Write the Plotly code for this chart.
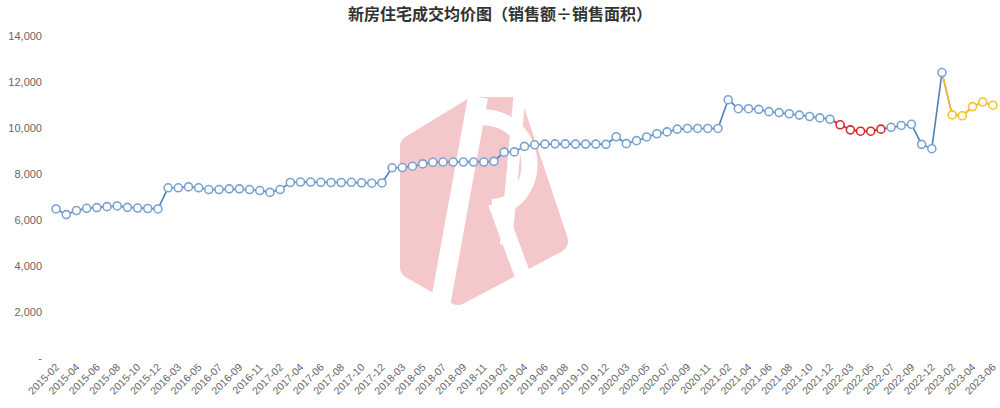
import base64
import plotly.graph_objects as go

# ---- data ----
months = [
    "2015-02", "2015-03", "2015-04", "2015-05", "2015-06", "2015-07", "2015-08", "2015-09", "2015-10", "2015-11", "2015-12",
    "2016-02", "2016-03", "2016-04", "2016-05", "2016-06", "2016-07", "2016-08", "2016-09", "2016-10", "2016-11", "2016-12",
    "2017-02", "2017-03", "2017-04", "2017-05", "2017-06", "2017-07", "2017-08", "2017-09", "2017-10", "2017-11", "2017-12",
    "2018-02", "2018-03", "2018-04", "2018-05", "2018-06", "2018-07", "2018-08", "2018-09", "2018-10", "2018-11", "2018-12",
    "2019-02", "2019-03", "2019-04", "2019-05", "2019-06", "2019-07", "2019-08", "2019-09", "2019-10", "2019-11", "2019-12",
    "2020-02", "2020-03", "2020-04", "2020-05", "2020-06", "2020-07", "2020-08", "2020-09", "2020-10", "2020-11", "2020-12",
    "2021-02", "2021-03", "2021-04", "2021-05", "2021-06", "2021-07", "2021-08", "2021-09", "2021-10", "2021-11", "2021-12",
    "2022-02", "2022-03", "2022-04", "2022-05", "2022-06", "2022-07", "2022-08", "2022-09", "2022-10", "2022-12",
    "2023-01", "2023-02", "2023-03", "2023-04", "2023-05", "2023-06",
]
avg_price = [
    6480, 6235, 6410, 6510, 6540, 6580, 6610, 6550, 6520, 6500, 6480,
    7400, 7400, 7440, 7400, 7325, 7325, 7355, 7355, 7325, 7280, 7200,
    7325, 7630, 7650, 7650, 7640, 7630, 7630, 7640, 7620, 7600, 7610,
    8270, 8280, 8340, 8440, 8510, 8520, 8520, 8520, 8520, 8520, 8550,
    8950, 8960, 9200, 9270, 9300, 9310, 9310, 9300, 9300, 9300, 9290,
    9620, 9320, 9450, 9610, 9750, 9830, 9950, 9980, 9980, 9980, 9980,
    11230, 10840, 10840, 10810, 10710, 10670, 10620, 10560, 10500, 10440, 10380,
    10140, 9920, 9860, 9860, 9950, 10030, 10110, 10160, 9290, 9100,
    12410, 10570, 10530, 10930, 11130, 10990,
]
red_start, red_end = "2022-02", "2022-06"      # highlighted period (red)
yellow_start = "2023-02"                        # highlighted period (yellow)
y_ticks = [0, 2000, 4000, 6000, 8000, 10000, 12000, 14000]
y_tick_text = ["-", "2,000", "4,000", "6,000", "8,000", "10,000", "12,000", "14,000"]
title_text = "新房住宅成交均价图（销售额÷销售面积）"

BLUE_LINE = "#4f7fb8"
BLUE_MARK = "#7aa3d3"
RED = "#d42a2a"
YELLOW = "#f8c22c"

i_r0 = months.index(red_start)
i_r1 = months.index(red_end)
i_y0 = months.index(yellow_start)

mark_colors = []
for i in range(len(months)):
    if i_r0 <= i <= i_r1:
        mark_colors.append(RED)
    elif i >= i_y0:
        mark_colors.append(YELLOW)
    else:
        mark_colors.append(BLUE_MARK)

fig = go.Figure()
fig.add_trace(go.Scatter(x=months, y=avg_price, mode="lines",
                         line=dict(color=BLUE_LINE, width=1.6), hoverinfo="skip"))
fig.add_trace(go.Scatter(x=months[i_r0 - 1:i_r1 + 1], y=avg_price[i_r0 - 1:i_r1 + 1], mode="lines",
                         line=dict(color=RED, width=1.6), hoverinfo="skip"))
fig.add_trace(go.Scatter(x=months[i_y0 - 1:], y=avg_price[i_y0 - 1:], mode="lines",
                         line=dict(color=YELLOW, width=1.6), hoverinfo="skip"))
fig.add_trace(go.Scatter(x=months, y=avg_price, mode="markers",
                         marker=dict(symbol="circle", size=8, color="white",
                                     line=dict(color=mark_colors, width=1.6))))

# ---- watermark logo (decoration) ----
svg = """<svg xmlns='http://www.w3.org/2000/svg' width='170' height='212' viewBox='0 0 170 212'>
<polygon points='14,52 76,14 114,14 158,146 60,198 14,172' fill='#f4c8ca' stroke='#f4c8ca' stroke-width='24' stroke-linejoin='round'/>
<line x1='40' y1='222' x2='80' y2='2' stroke='white' stroke-width='20'/>
<path d='M 80,22 C 146,20 146,110 94,112' fill='none' stroke='white' stroke-width='16'/>
<line x1='98' y1='108' x2='140' y2='222' stroke='white' stroke-width='16'/>
<line x1='122' y1='-5' x2='108' y2='150' stroke='white' stroke-width='12'/>
</svg>"""
src = "data:image/svg+xml;base64," + base64.b64encode(svg.encode()).decode()

L, R, T, B = 51, 2, 36, 50
W, H = 1000, 408
pw, ph = W - L - R, H - T - B
fig.add_layout_image(dict(source=src, xref="paper", yref="paper",
                          x=(398 - L) / pw, y=(358 - 95) / ph,
                          sizex=170 / pw, sizey=212 / ph,
                          xanchor="left", yanchor="top", sizing="stretch",
                          layer="below", opacity=1))

fig.update_layout(
    width=W, height=H,
    margin=dict(l=L, r=R, t=T, b=B, autoexpand=False),
    paper_bgcolor="white", plot_bgcolor="rgba(0,0,0,0)",
    showlegend=False,
    title=dict(text="<b>" + title_text + "</b>", x=0.5, xref="container", xanchor="center",
               y=1 - 14 / H, yref="container", yanchor="middle",
               font=dict(family="Noto Sans CJK SC", size=16, color="#333333")),
    font=dict(family="Liberation Sans, Arial, sans-serif", size=11, color="#666666"),
)
fig.update_xaxes(type="category", categoryorder="array", categoryarray=months,
                 range=[-0.5, len(months) - 0.5], automargin=False,
                 tickmode="array", tickvals=months[::2], ticktext=months[::2],
                 tickangle=-45, tickfont=dict(size=10.5, color="#666666"),
                 showgrid=False, zeroline=False, showline=False, ticks="")
fig.update_yaxes(range=[0, 14000], tickmode="array", tickvals=y_ticks, ticktext=y_tick_text,
                 automargin=False,
                 tickfont=dict(size=11, color="#666666"), ticklabelstandoff=8,
                 showgrid=False, zeroline=False, showline=False, ticks="")

fig.write_html("out.html", config={"displayModeBar": False},
               post_script="document.body.style.margin='0';document.body.style.padding='0';")
